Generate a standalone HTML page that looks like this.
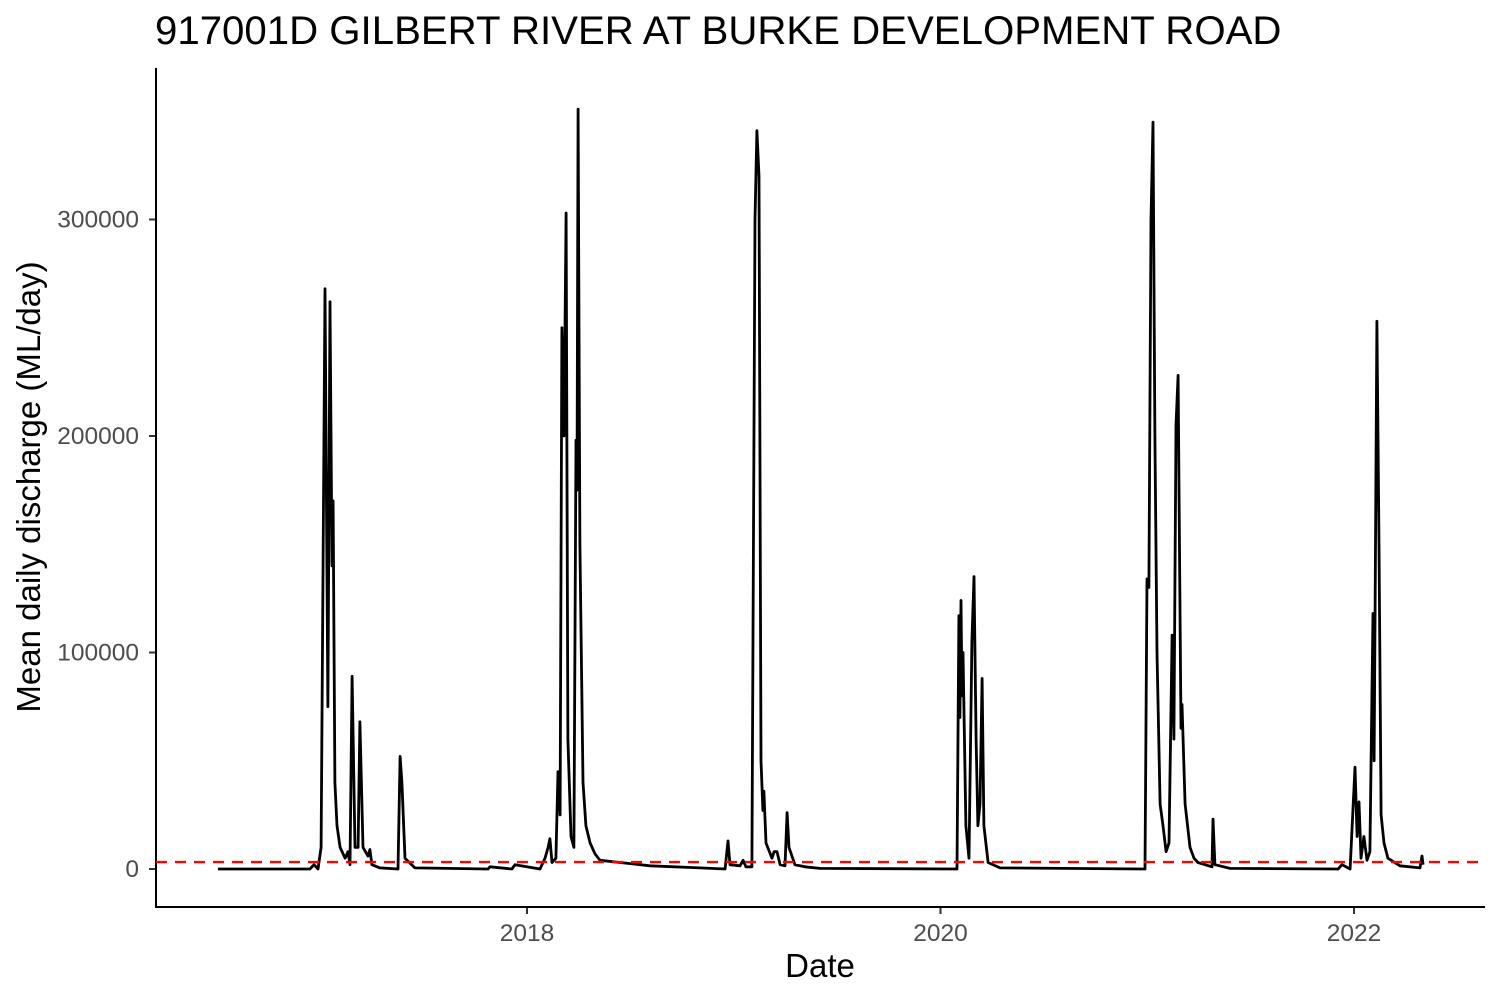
<!DOCTYPE html>
<html><head><meta charset="utf-8"><style>
html,body{margin:0;padding:0;background:#fff;}
svg{display:block;font-family:"Liberation Sans",Arial,sans-serif;}
</style></head><body>
<svg id="chart" width="1500" height="1000" viewBox="0 0 1500 1000">
<text x="155" y="44" font-size="40.2" fill="#000">917001D GILBERT RIVER AT BURKE DEVELOPMENT ROAD</text>
<g id="yticks"></g><g id="xticks"></g>
<line x1="156" y1="907" x2="1485" y2="907" stroke="#000" stroke-width="2"/>
<line x1="156" y1="68" x2="156" y2="908" stroke="#000" stroke-width="2"/>
<g id="plot"></g>
<text x="820" y="977" font-size="33" text-anchor="middle">Date</text>
<text transform="translate(40,487) rotate(-90)" font-size="33" text-anchor="middle">Mean daily discharge (ML/day)</text>
</svg>
<script>
const dates=[2016.505,2016.950,2016.970,2016.989,2017.004,2017.023,2017.037,2017.047,2017.057,2017.062,2017.071,2017.081,2017.096,2017.120,2017.134,2017.144,2017.154,2017.168,2017.183,2017.192,2017.207,2017.231,2017.240,2017.250,2017.289,2017.376,2017.386,2017.395,2017.410,2017.458,2017.811,2017.821,2017.927,2017.942,2018.063,2018.087,2018.102,2018.111,2018.121,2018.140,2018.150,2018.160,2018.169,2018.179,2018.189,2018.198,2018.213,2018.227,2018.237,2018.242,2018.247,2018.256,2018.271,2018.285,2018.305,2018.329,2018.353,2018.450,2018.595,2018.837,2018.958,2018.972,2018.982,2019.030,2019.045,2019.059,2019.088,2019.103,2019.112,2019.122,2019.132,2019.141,2019.146,2019.156,2019.185,2019.195,2019.209,2019.224,2019.248,2019.258,2019.267,2019.296,2019.344,2019.417,2020.080,2020.089,2020.094,2020.099,2020.104,2020.109,2020.123,2020.138,2020.152,2020.162,2020.172,2020.181,2020.191,2020.201,2020.210,2020.230,2020.288,2020.989,2020.999,2021.008,2021.018,2021.028,2021.037,2021.047,2021.062,2021.076,2021.091,2021.105,2021.120,2021.129,2021.139,2021.149,2021.154,2021.163,2021.168,2021.183,2021.207,2021.226,2021.245,2021.313,2021.318,2021.327,2021.400,2021.923,2021.942,2021.981,2022.005,2022.015,2022.024,2022.034,2022.048,2022.063,2022.077,2022.092,2022.097,2022.102,2022.111,2022.121,2022.131,2022.145,2022.164,2022.222,2022.319,2022.329,2022.334];
const discharge=[0,0,2000,0,10000,268000,75000,262000,140000,170000,40000,20000,10000,5000,8000,2000,89000,10000,10000,68000,10000,6000,9000,2000,500,0,52000,40000,5000,500,0,1000,0,2000,0,5000,10000,14000,3000,5000,45000,25000,250000,200000,303000,60000,15000,10000,198000,175000,351000,150000,40000,20000,12000,7000,4000,3000,1500,500,0,13000,2000,1500,4000,1000,1000,300000,341000,320000,50000,27000,36000,12000,5000,8000,8000,2000,1500,26000,10000,2000,1000,300,0,117000,70000,124000,80000,100000,20000,5000,105000,135000,60000,20000,30000,88000,20000,3000,500,0,134000,130000,300000,345000,200000,100000,30000,20000,8000,12000,108000,60000,205000,228000,170000,65000,76000,30000,10000,5000,3000,1000,23000,2000,300,0,2000,0,47000,15000,31000,5000,15000,4000,8000,118000,50000,120000,253000,150000,25000,12000,5000,1500,500,6000,2000];
const yTicks=[0,100000,200000,300000];
const xTicks=[2018,2020,2022];
const threshold=3200;
const NS="http://www.w3.org/2000/svg";
function xs(v){return 527+(v-2018)*206.75;}
function ys(v){return 869-v*216.5/100000;}
const yg=document.getElementById('yticks'),xg=document.getElementById('xticks'),pg=document.getElementById('plot');
yTicks.forEach(t=>{
 const l=document.createElementNS(NS,'line');
 l.setAttribute('x1',149);l.setAttribute('x2',156);l.setAttribute('y1',ys(t));l.setAttribute('y2',ys(t));
 l.setAttribute('stroke','#333');l.setAttribute('stroke-width','2');
 
 
 yg.appendChild(l);
 const tx=document.createElementNS(NS,'text');
 tx.setAttribute('x',139);tx.setAttribute('y',ys(t)+8);tx.setAttribute('text-anchor','end');
 tx.setAttribute('font-size','24.5');tx.setAttribute('fill','#4d4d4d');tx.textContent=t;
 
 
 yg.appendChild(tx);
});
xTicks.forEach(t=>{
 const l=document.createElementNS(NS,'line');
 l.setAttribute('x1',xs(t));l.setAttribute('x2',xs(t));l.setAttribute('y1',907);l.setAttribute('y2',914);
 l.setAttribute('stroke','#333');l.setAttribute('stroke-width','2');
 
 
 xg.appendChild(l);
 const tx=document.createElementNS(NS,'text');
 tx.setAttribute('x',xs(t));tx.setAttribute('y',941);tx.setAttribute('text-anchor','middle');
 tx.setAttribute('font-size','24.5');tx.setAttribute('fill','#4d4d4d');tx.textContent=t;
 
 
 xg.appendChild(tx);
});
const p=document.createElementNS(NS,'polyline');
p.setAttribute('points',dates.map((d,i)=>xs(d).toFixed(1)+','+ys(discharge[i]).toFixed(1)).join(' '));
p.setAttribute('fill','none');p.setAttribute('stroke','#000');p.setAttribute('stroke-width','2.8');p.setAttribute('stroke-linejoin','round');


pg.appendChild(p);
const h=document.createElementNS(NS,'line');
h.setAttribute('x1',156);h.setAttribute('x2',1485);h.setAttribute('y1',ys(threshold));h.setAttribute('y2',ys(threshold));
h.setAttribute('stroke','#ff0000');h.setAttribute('stroke-width','2.4');h.setAttribute('stroke-dasharray','11 8');


pg.appendChild(h);
</script>
</body></html>
